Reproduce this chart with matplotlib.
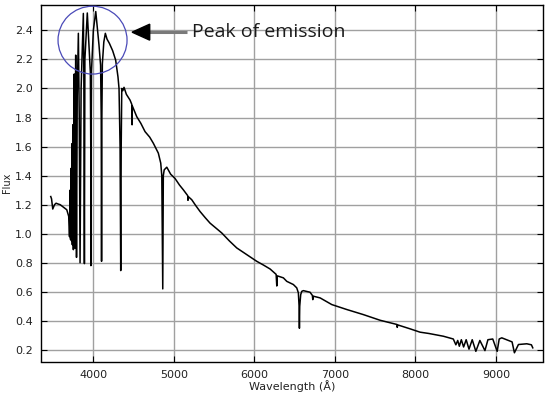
import matplotlib
matplotlib.use("Agg")
import matplotlib.pyplot as plt
from matplotlib.patches import Ellipse, Polygon
import numpy as np

wavelength = [3471, 3481, 3496, 3518, 3537, 3560, 3588, 3627, 3670, 3694,
              3700, 3704, 3708, 3711, 3714, 3717, 3720, 3723, 3726, 3729,
              3732, 3735, 3737, 3739, 3742, 3745, 3748, 3752, 3757, 3763,
              3768, 3773, 3777, 3781, 3786, 3791, 3800, 3814, 3825, 3835,
              3848, 3876, 3882, 3889, 3895, 3925, 3950, 3963, 3968, 3970,
              3972, 3977, 4000, 4030, 4070, 4090, 4098, 4102, 4106, 4112,
              4130, 4149, 4170, 4200, 4240, 4277, 4306, 4319, 4332, 4340,
              4346, 4353, 4366, 4381, 4410, 4456, 4478, 4481, 4484, 4539,
              4590, 4642, 4700, 4745, 4807, 4837, 4850, 4856, 4862, 4866,
              4869, 4880, 4912, 4960, 5015, 5070, 5118, 5172, 5175, 5180,
              5222, 5270, 5325, 5390, 5449, 5520, 5595, 5690, 5781, 5840,
              5890, 5905, 5960, 6029, 6110, 6195, 6270, 6278, 6283, 6360,
              6402, 6484, 6526, 6546, 6555, 6559, 6563, 6575, 6588, 6608,
              6691, 6720, 6725, 6730, 6816, 6961, 7147, 7353, 7561, 7770,
              7774, 7780, 7933, 8057, 8166, 8347, 8470, 8502, 8525, 8545,
              8570, 8598, 8630, 8665, 8705, 8750, 8800, 8863, 8900, 8960,
              9015, 9040, 9072, 9176, 9200, 9229, 9279, 9383, 9440, 9457]
flux = [1.256, 1.24, 1.17, 1.20, 1.21, 1.205, 1.20, 1.183, 1.165, 1.12,
        1.05, 0.98, 1.20, 1.30, 1.00, 0.96, 1.30, 1.45, 1.05, 0.95,
        1.35, 1.62, 1.10, 0.924, 1.40, 1.75, 1.20, 0.89, 1.70, 2.10,
        1.50, 0.90, 1.90, 2.23, 1.60, 0.837, 1.95, 2.38, 1.80, 0.80,
        2.00, 2.517, 2.10, 0.794, 2.20, 2.52, 2.25, 2.11, 1.60, 0.78,
        1.60, 2.12, 2.40, 2.53, 2.30, 2.16, 1.80, 0.81, 1.80, 2.17,
        2.32, 2.38, 2.34, 2.31, 2.26, 2.196, 2.08, 2.00, 1.60, 0.746,
        1.60, 2.00, 1.985, 2.008, 1.96, 1.92, 1.89, 1.75, 1.88, 1.806,
        1.76, 1.703, 1.665, 1.623, 1.555, 1.486, 1.40, 1.00, 0.62, 1.00,
        1.40, 1.44, 1.458, 1.41, 1.38, 1.335, 1.302, 1.262, 1.23, 1.255,
        1.234, 1.195, 1.153, 1.11, 1.073, 1.04, 1.005, 0.95, 0.902, 0.88,
        0.862, 0.856, 0.835, 0.81, 0.785, 0.757, 0.72, 0.64, 0.71, 0.696,
        0.672, 0.65, 0.627, 0.593, 0.50, 0.349, 0.50, 0.58, 0.603, 0.608,
        0.597, 0.575, 0.546, 0.57, 0.558, 0.512, 0.478, 0.443, 0.404, 0.375,
        0.355, 0.372, 0.345, 0.322, 0.313, 0.294, 0.275, 0.235, 0.265, 0.225,
        0.27, 0.22, 0.27, 0.205, 0.27, 0.19, 0.265, 0.195, 0.27, 0.275,
        0.19, 0.275, 0.283, 0.26, 0.255, 0.18, 0.237, 0.242, 0.235, 0.214]

x_ticks = [4000, 5000, 6000, 7000, 8000, 9000]
y_ticks = [0.2, 0.4, 0.6, 0.8, 1.0, 1.2, 1.4, 1.6, 1.8, 2.0, 2.2, 2.4]
annotation_text = "Peak of emission"

fig = plt.figure(figsize=(5.52, 3.99), dpi=100)
ax = fig.add_axes([41/552, 1 - 361.5/399, 502/552, 356.5/399])

ax.plot(wavelength, flux, color="black", lw=1.1, zorder=3)

ax.set_xlim(3350, 9584)
ax.set_ylim(0.12, 2.575)
ax.set_xticks(x_ticks)
ax.set_yticks(y_ticks)
ax.set_yticklabels([f"{v:.1f}" for v in y_ticks])
ax.grid(True, color="#a0a0a0", lw=1.0, zorder=0)
ax.tick_params(direction="in", length=4, top=True, right=True,
               labelsize=8, colors="black", labelcolor="#222222", pad=6)
for s in ax.spines.values():
    s.set_color("black")
    s.set_linewidth(1.0)

ax.set_xlabel("Wavelength (Å)", fontsize=8, color="#222222", labelpad=0)
ax.set_ylabel("Flux", fontsize=7, color="#222222", labelpad=2)

# circle around the peak
circ = Ellipse((3990, 2.333), width=857, height=0.467, fill=False,
               edgecolor="#4a4ab8", lw=0.9, zorder=4, clip_on=False)
ax.add_patch(circ)

# arrow: gray shaft with black head
ax.plot([4690, 5160], [2.388, 2.388], color="#7a7a7a", lw=2.2, zorder=4,
        solid_capstyle="butt")
head = Polygon([[4481, 2.388], [4700, 2.443], [4700, 2.333]], closed=True,
               facecolor="black", edgecolor="black", zorder=5)
ax.add_patch(head)

ax.text(5225, 2.392, annotation_text, fontsize=14, family="Open Sans",
        color="#1a1a1a", va="center", ha="left", zorder=5)

fig.savefig("out.png", dpi=100)
